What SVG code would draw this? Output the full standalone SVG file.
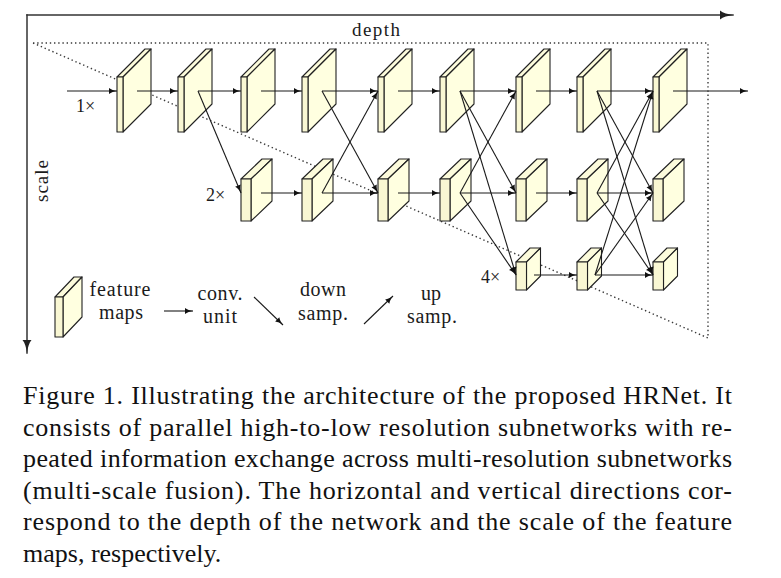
<svg xmlns="http://www.w3.org/2000/svg" xmlns:xlink="http://www.w3.org/1999/xlink" width="781" height="578" viewBox="0 0 781 578">
<style>
  .axis{stroke:#333;stroke-width:1.5;fill:none;stroke-linecap:square}
  .dot{stroke:#3a3a3a;stroke-width:1.4;fill:none;stroke-dasharray:1.4 2.8}
  .fr{fill:#f9f7d3;stroke:#222;stroke-width:1.1;stroke-linejoin:round}
  .sd{fill:#ffffe0;stroke:#222;stroke-width:1.1;stroke-linejoin:round}
  .tp{fill:#fcfbdb;stroke:#222;stroke-width:1.1;stroke-linejoin:round}
  .c{stroke:#1a1a1a;stroke-width:1.1;fill:none;marker-end:url(#ah)}
  .lbl{font-family:"Liberation Serif","Times New Roman",serif;fill:#1b1b1b}
  .cap{font-family:"Liberation Serif","Times New Roman",serif;font-size:26px;fill:#111}
</style>
<defs>
  <marker id="ah" markerUnits="userSpaceOnUse" markerWidth="9" markerHeight="7" refX="8" refY="3" orient="auto" overflow="visible">
    <path d="M0,0 C2,1.6 5,2.6 8,3 C5,3.4 2,4.4 0,6 Z" fill="#111"/>
  </marker>
  <marker id="axh" markerUnits="userSpaceOnUse" markerWidth="14" markerHeight="10" refX="13" refY="4.5" orient="auto" overflow="visible">
    <path d="M0,0 C3,2.5 8,3.8 13,4.5 C8,5.2 3,6.5 0,9 Z" fill="#222"/>
  </marker>
  <g id="blk1">
    <polygon class="tp" points="0,0 6,0 34,-28 28,-28"/>
    <polygon class="sd" points="6,0 34,-28 34,27 6,55"/>
    <rect class="fr" x="0" y="0" width="6" height="55"/>
  </g>
  <g id="blk2">
    <polygon class="tp" points="0,0 10,0 31,-20 21,-20"/>
    <polygon class="sd" points="10,0 31,-20 31,22 10,42"/>
    <rect class="fr" x="0" y="0" width="10" height="42"/>
  </g>
  <g id="blk3">
    <polygon class="tp" points="0,0 10.5,0 24.5,-14 14,-14"/>
    <polygon class="sd" points="10.5,0 24.5,-14 24.5,14 10.5,28"/>
    <rect class="fr" x="0" y="0" width="10.5" height="28"/>
  </g>
  <g id="blkL">
    <polygon class="tp" points="0,0 8,0 27,-20 19,-20"/>
    <polygon class="sd" points="8,0 27,-20 27,20 8,40"/>
    <rect class="fr" x="0" y="0" width="8" height="40"/>
  </g>
</defs>
<rect width="781" height="578" fill="#fff"/>

<g id="axes">
  <line class="axis" x1="27" y1="15" x2="733" y2="15" marker-end="url(#axh)"/>
  <line class="axis" x1="27" y1="15" x2="27" y2="353" marker-end="url(#axh)"/>
  <text class="lbl" x="376" y="36" font-size="19" text-anchor="middle" textLength="48" lengthAdjust="spacing">depth</text>
  <text class="lbl" transform="translate(48,181) rotate(-90)" font-size="19" text-anchor="middle" textLength="42" lengthAdjust="spacing">scale</text>
</g>

<g id="region">
  <path class="dot" d="M33,43 H708 V338 L33,43"/>
</g>

<g id="labels">
  <text class="lbl" x="76" y="112" font-size="18">1×</text>
  <text class="lbl" x="206" y="200.5" font-size="18">2×</text>
  <text class="lbl" x="481" y="283" font-size="18">4×</text>
</g>

<g id="nodes">
  <g id="r1b1"><use xlink:href="#blk1" x="117" y="77"/></g>
  <g id="r1b2"><use xlink:href="#blk1" x="178" y="77"/></g>
  <g id="r1b3"><use xlink:href="#blk1" x="241" y="77"/></g>
  <g id="r1b4"><use xlink:href="#blk1" x="302" y="77"/></g>
  <g id="r1b5"><use xlink:href="#blk1" x="378" y="77"/></g>
  <g id="r1b6"><use xlink:href="#blk1" x="440" y="77"/></g>
  <g id="r1b7"><use xlink:href="#blk1" x="516" y="77"/></g>
  <g id="r1b8"><use xlink:href="#blk1" x="577" y="77"/></g>
  <g id="r1b9"><use xlink:href="#blk1" x="653" y="77"/></g>

  <g id="r2b1"><use xlink:href="#blk2" x="241" y="179"/></g>
  <g id="r2b2"><use xlink:href="#blk2" x="302" y="179"/></g>
  <g id="r2b3"><use xlink:href="#blk2" x="378" y="179"/></g>
  <g id="r2b4"><use xlink:href="#blk2" x="440" y="179"/></g>
  <g id="r2b5"><use xlink:href="#blk2" x="516" y="179"/></g>
  <g id="r2b6"><use xlink:href="#blk2" x="577" y="179"/></g>
  <g id="r2b7"><use xlink:href="#blk2" x="653" y="179"/></g>

  <g id="r3b1"><use xlink:href="#blk3" x="516" y="262"/></g>
  <g id="r3b2"><use xlink:href="#blk3" x="577" y="262"/></g>
  <g id="r3b3"><use xlink:href="#blk3" x="653" y="262"/></g>
</g>

<g id="connectors">
  <!-- row 1 -->
  <line class="c" x1="67" y1="91" x2="117" y2="91"/>
  <line class="c" x1="137" y1="91" x2="178" y2="91"/>
  <line class="c" x1="198" y1="91" x2="241" y2="91"/>
  <line class="c" x1="261" y1="91" x2="302" y2="91"/>
  <line class="c" x1="322" y1="91" x2="378" y2="91"/>
  <line class="c" x1="398" y1="91" x2="440" y2="91"/>
  <line class="c" x1="460" y1="91" x2="516" y2="91"/>
  <line class="c" x1="536" y1="91" x2="577" y2="91"/>
  <line class="c" x1="597" y1="91" x2="653" y2="91"/>
  <line class="c" x1="673" y1="91" x2="748" y2="91"/>
  <!-- row 2 -->
  <line class="c" x1="198" y1="91" x2="241" y2="193"/>
  <line class="c" x1="261" y1="193" x2="302" y2="193"/>
  <line class="c" x1="322" y1="193" x2="378" y2="193"/>
  <line class="c" x1="398" y1="193" x2="440" y2="193"/>
  <line class="c" x1="460" y1="193" x2="516" y2="193"/>
  <line class="c" x1="536" y1="193" x2="577" y2="193"/>
  <line class="c" x1="597" y1="193" x2="653" y2="193"/>
  <!-- fusion 1 -->
  <line class="c" x1="322" y1="91" x2="378" y2="193"/>
  <line class="c" x1="322" y1="193" x2="378" y2="91"/>
  <!-- fusion 2 -->
  <line class="c" x1="460" y1="91" x2="516" y2="193"/>
  <line class="c" x1="460" y1="91" x2="516" y2="275"/>
  <line class="c" x1="460" y1="193" x2="516" y2="91"/>
  <line class="c" x1="460" y1="193" x2="516" y2="275"/>
  <!-- row 3 -->
  <line class="c" x1="534" y1="275" x2="577" y2="275"/>
  <line class="c" x1="595" y1="275" x2="653" y2="275"/>
  <!-- fusion 3 -->
  <line class="c" x1="597" y1="91" x2="653" y2="193"/>
  <line class="c" x1="597" y1="91" x2="653" y2="275"/>
  <line class="c" x1="597" y1="193" x2="653" y2="91"/>
  <line class="c" x1="597" y1="193" x2="653" y2="275"/>
  <line class="c" x1="595" y1="275" x2="653" y2="91"/>
  <line class="c" x1="595" y1="275" x2="653" y2="193"/>
</g>

<g id="legend">
  <g id="legend-block"><use xlink:href="#blkL" x="55" y="297"/></g>
  <text class="lbl" font-size="20" text-anchor="middle"><tspan x="120" y="296" textLength="61" lengthAdjust="spacing">feature</tspan><tspan x="121" y="319" textLength="44" lengthAdjust="spacing">maps</tspan></text>
  <line class="c" x1="164" y1="311" x2="193" y2="311"/>
  <text class="lbl" font-size="20" text-anchor="middle"><tspan x="220" y="300" textLength="45" lengthAdjust="spacing">conv.</tspan><tspan x="220" y="323" textLength="34" lengthAdjust="spacing">unit</tspan></text>
  <line class="c" x1="254" y1="297" x2="283" y2="325"/>
  <text class="lbl" font-size="20" text-anchor="middle"><tspan x="323" y="296" textLength="46" lengthAdjust="spacing">down</tspan><tspan x="323" y="320" textLength="50" lengthAdjust="spacing">samp.</tspan></text>
  <line class="c" x1="364" y1="324" x2="393" y2="296"/>
  <text class="lbl" font-size="20" text-anchor="middle"><tspan x="431" y="300">up</tspan><tspan x="432" y="323" textLength="50" lengthAdjust="spacing">samp.</tspan></text>
</g>

<g id="caption">
  <text class="cap" x="23" y="404" textLength="709" lengthAdjust="spacing">Figure 1. Illustrating the architecture of the proposed HRNet. It</text>
  <text class="cap" x="23" y="435.5" textLength="709" lengthAdjust="spacing">consists of parallel high-to-low resolution subnetworks with re-</text>
  <text class="cap" x="23" y="467" textLength="709" lengthAdjust="spacing">peated information exchange across multi-resolution subnetworks</text>
  <text class="cap" x="23" y="498.5" textLength="709" lengthAdjust="spacing">(multi-scale fusion). The horizontal and vertical directions cor-</text>
  <text class="cap" x="23" y="530" textLength="709" lengthAdjust="spacing">respond to the depth of the network and the scale of the feature</text>
  <text class="cap" x="23" y="561.5">maps, respectively.</text>
</g>
</svg>
